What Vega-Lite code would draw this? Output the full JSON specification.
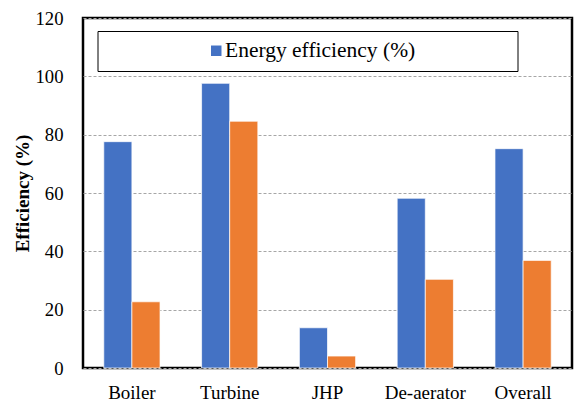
{
  "$schema": "https://vega.github.io/schema/vega-lite/v6.json",
  "width": 489,
  "height": 350,
  "autosize": {"type": "none"},
  "padding": {"left": 83, "top": 18, "right": 2, "bottom": 36},
  "background": "white",
  "config": {
    "font": "Liberation Serif",
    "axis": {"labelFont": "Liberation Serif", "titleFont": "Liberation Serif"},
    "legend": {"labelFont": "Liberation Serif", "titleFont": "Liberation Serif"},
    "view": {"stroke": "black", "strokeWidth": 2.5}
  },
  "data": {
    "values": [
      {"component": "Boiler", "type": "Energy efficiency (%)", "value": 77.6},
      {"component": "Boiler", "type": "Exergy efficiency (%)", "value": 22.7},
      {"component": "Turbine", "type": "Energy efficiency (%)", "value": 97.6},
      {"component": "Turbine", "type": "Exergy efficiency (%)", "value": 84.6},
      {"component": "JHP", "type": "Energy efficiency (%)", "value": 13.8},
      {"component": "JHP", "type": "Exergy efficiency (%)", "value": 4.1},
      {"component": "De-aerator", "type": "Energy efficiency (%)", "value": 58.2},
      {"component": "De-aerator", "type": "Exergy efficiency (%)", "value": 30.4},
      {"component": "Overall", "type": "Energy efficiency (%)", "value": 75.2},
      {"component": "Overall", "type": "Exergy efficiency (%)", "value": 36.9}
    ]
  },
  "mark": {"type": "bar", "stroke": "white", "strokeWidth": 0.7},
  "encoding": {
    "x": {
      "field": "component",
      "type": "nominal",
      "sort": null,
      "scale": {"paddingInner": 0.425, "paddingOuter": 0.2125},
      "axis": {
        "title": null,
        "labelAngle": 0,
        "domain": false,
        "ticks": false,
        "labelFont": "Liberation Serif",
        "labelFontSize": 19,
        "labelColor": "black",
        "labelPadding": 15
      }
    },
    "xOffset": {"field": "type", "type": "nominal", "sort": null},
    "y": {
      "field": "value",
      "type": "quantitative",
      "scale": {"domain": [0, 120], "nice": false},
      "axis": {
        "title": "Efficiency (%)",
        "titleFont": "Liberation Serif",
        "titleFontSize": 19,
        "titleFontWeight": "bold",
        "titleColor": "black",
        "titlePadding": 2,
        "values": [0, 20, 40, 60, 80, 100, 120],
        "domain": false,
        "ticks": false,
        "labelFont": "Liberation Serif",
        "labelFontSize": 18.7,
        "labelColor": "black",
        "labelPadding": 20,
        "gridColor": "#a6a6a6",
        "gridDash": [3, 2],
        "gridWidth": 1
      }
    },
    "color": {
      "field": "type",
      "type": "nominal",
      "scale": {
        "domain": ["Energy efficiency (%)", "Exergy efficiency (%)"],
        "range": ["#4472C4", "#ED7D31"]
      },
      "legend": {
        "values": ["Energy efficiency (%)"],
        "orient": "none",
        "legendX": 14.5,
        "legendY": 13,
        "title": "\u00a0",
        "titleOrient": "right",
        "titlePadding": 93,
        "titleFontSize": 8,
        "strokeColor": "black",
        "fillColor": "white",
        "padding": 9,
        "symbolType": "square",
        "symbolSize": 110,
        "symbolOpacity": 1,
        "symbolStrokeWidth": 0,
        "symbolOffset": 99,
        "labelOffset": -2,
        "labelFont": "Liberation Serif",
        "labelFontSize": 21.5,
        "labelColor": "black",
        "labelLimit": 400,
        "encode": {"legend": {"update": {"strokeWidth": {"value": 2}}}}
      }
    }
  }
}
